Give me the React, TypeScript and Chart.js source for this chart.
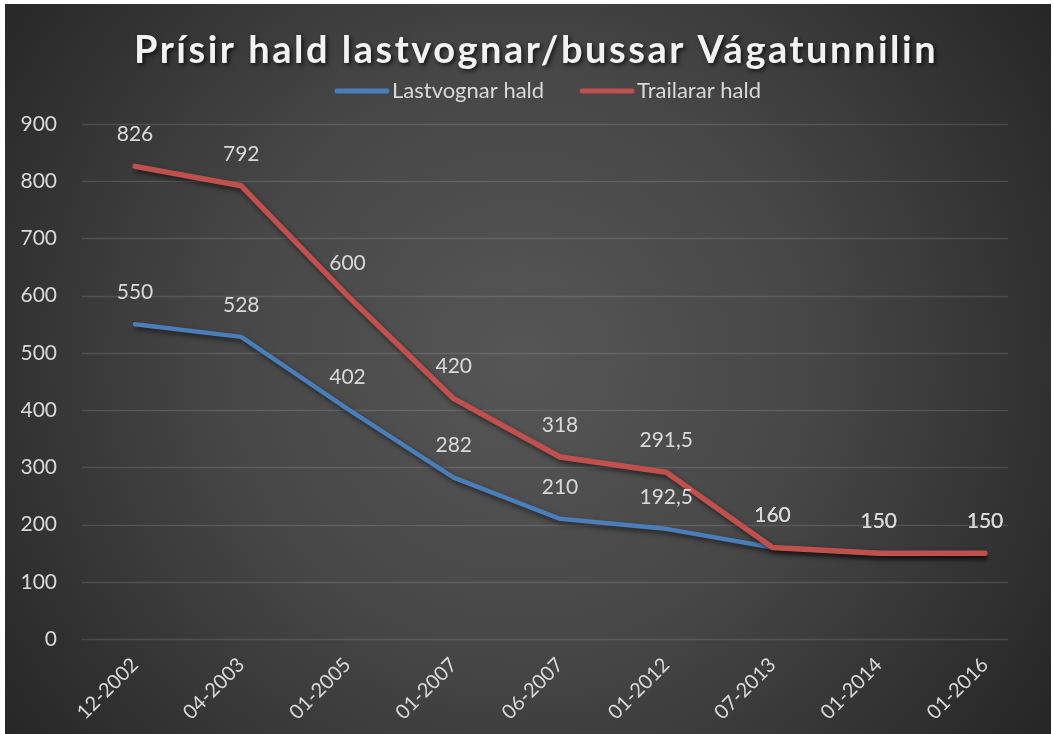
import React, { useEffect, useRef } from "react";
import { Chart, registerables } from "chart.js";

Chart.register(...registerables);

const categories = ["12-2002", "04-2003", "01-2005", "01-2007", "06-2007", "01-2012", "07-2013", "01-2014", "01-2016"];
const lastvognarValues = [550, 528, 402, 282, 210, 192.5, 160, 150, 150];
const trailararValues = [826, 792, 600, 420, 318, 291.5, 160, 150, 150];
const seriesNames = ["Lastvognar hald", "Trailarar hald"];
const seriesColors = ["#4a7ebb", "#c0504d"];
const yMin = 0;
const yMax = 900;
const yStep = 100;
const titleText = "Prísir hald lastvognar/bussar Vágatunnilin";

const FONT = "Lato, 'Open Sans', 'DejaVu Sans', sans-serif";
const TEXT_COLOR = "#d9d9d9";

const fmt = (v: number) => String(v).replace(".", ",");

const bgPlugin = {
  id: "bg",
  beforeDraw(chart: any) {
    const { ctx, width, height } = chart;
    ctx.save();
    ctx.fillStyle = "#ffffff";
    ctx.fillRect(0, 0, width, height);
    const g = ctx.createRadialGradient(520, 360, 0, 520, 360, 640);
    g.addColorStop(0, "#565656");
    g.addColorStop(0.45, "#474747");
    g.addColorStop(1, "#262626");
    ctx.fillStyle = g;
    ctx.fillRect(5, 4, width - 7, height - 4);
    ctx.restore();
  },
};

const gridPlugin = {
  id: "customGrid",
  beforeDatasetsDraw(chart: any) {
    const { ctx } = chart;
    const ys = chart.scales.y;
    ctx.save();
    ctx.strokeStyle = "rgba(255,255,255,0.12)";
    ctx.lineWidth = 1.5;
    ys.ticks.forEach((t: any) => {
      const y = Math.round(ys.getPixelForValue(t.value)) + 0.5;
      ctx.beginPath();
      ctx.moveTo(82, y);
      ctx.lineTo(1008, y);
      ctx.stroke();
    });
    ctx.restore();
  },
};

const shadowPlugin = {
  id: "lineShadow",
  beforeDatasetsDraw(chart: any) {
    const { ctx } = chart;
    ctx.save();
    ctx.shadowColor = "rgba(0,0,0,0.55)";
    ctx.shadowBlur = 5;
    ctx.shadowOffsetX = 2;
    ctx.shadowOffsetY = 3;
  },
  afterDatasetsDraw(chart: any) {
    chart.ctx.restore();
  },
};

const labelsPlugin = {
  id: "dataLabels",
  afterDatasetsDraw(chart: any) {
    const { ctx } = chart;
    ctx.save();
    ctx.font = `21px ${FONT}`;
    ctx.fillStyle = TEXT_COLOR;
    ctx.textAlign = "center";
    ctx.textBaseline = "middle";
    chart.data.datasets.forEach((ds: any, di: number) => {
      const meta = chart.getDatasetMeta(di);
      meta.data.forEach((pt: any, i: number) => {
        ctx.fillText(fmt(ds.data[i]), pt.x, pt.y - 32);
      });
    });
    ctx.restore();
  },
};

const headerPlugin = {
  id: "header",
  afterDraw(chart: any) {
    const { ctx } = chart;
    ctx.save();
    ctx.font = `bold 38px ${FONT}`;
    (ctx as any).letterSpacing = "2.5px";
    ctx.textAlign = "center";
    ctx.textBaseline = "middle";
    ctx.shadowColor = "rgba(0,0,0,0.7)";
    ctx.shadowBlur = 4;
    ctx.shadowOffsetX = 2;
    ctx.shadowOffsetY = 2;
    ctx.fillStyle = "#f2f2f2";
    ctx.fillText(titleText, 536, 51);
    ctx.restore();

    // legend
    ctx.save();
    ctx.font = `22px ${FONT}`;
    ctx.textBaseline = "middle";
    ctx.textAlign = "left";
    const sample = 54;
    const gap = 3;
    const itemGap = 36;
    const widths = seriesNames.map((n) => sample + gap + ctx.measureText(n).width);
    const total = widths.reduce((a, b) => a + b, 0) + itemGap * (seriesNames.length - 1);
    let x = 548 - total / 2;
    const y = 91;
    seriesNames.forEach((n, i) => {
      ctx.strokeStyle = seriesColors[i];
      ctx.lineWidth = 5;
      ctx.lineCap = "round";
      ctx.beginPath();
      ctx.moveTo(x + 2, y);
      ctx.lineTo(x + sample - 2, y);
      ctx.stroke();
      ctx.fillStyle = TEXT_COLOR;
      ctx.fillText(n, x + sample + gap, y);
      x += widths[i] + itemGap;
    });
    ctx.restore();
  },
};

export default function App() {
  const ref = useRef<HTMLCanvasElement | null>(null);
  useEffect(() => {
    document.body.style.margin = "0";
    const canvas = ref.current;
    if (!canvas) return;
    const chart = new Chart(canvas, {
      type: "line",
      data: {
        labels: categories,
        datasets: [
          {
            label: seriesNames[0],
            data: lastvognarValues,
            borderColor: seriesColors[0],
            backgroundColor: seriesColors[0],
            borderWidth: 4.5,
            pointRadius: 0,
            tension: 0,
            borderCapStyle: "round",
            borderJoinStyle: "round",
            order: 1,
          },
          {
            label: seriesNames[1],
            data: trailararValues,
            borderColor: seriesColors[1],
            backgroundColor: seriesColors[1],
            borderWidth: 5.5,
            pointRadius: 0,
            tension: 0,
            borderCapStyle: "round",
            borderJoinStyle: "round",
            order: 0,
          },
        ],
      },
      options: {
        responsive: false,
        animation: false,
        layout: { padding: { left: 0, right: 68, top: 124, bottom: 0 } },
        plugins: {
          legend: { display: false },
          title: { display: false },
          tooltip: { enabled: false },
        },
        scales: {
          x: {
            offset: false,
            grid: { display: false },
            border: { display: false },
            ticks: {
              color: TEXT_COLOR,
              font: { family: FONT, size: 20 },
              minRotation: 45,
              maxRotation: 45,
              autoSkip: false,
              padding: 6,
            },
            afterFit(scale: any) {
              scale.height = 95;
            },
          },
          y: {
            min: yMin,
            max: yMax,
            grid: { display: false },
            border: { display: false },
            ticks: {
              stepSize: yStep,
              color: TEXT_COLOR,
              font: { family: FONT, size: 21 },
              padding: 70,
            },
            afterFit(scale: any) {
              scale.width = 135;
            },
          },
        },
      },
      plugins: [bgPlugin, gridPlugin, shadowPlugin, labelsPlugin, headerPlugin],
    } as any);
    return () => chart.destroy();
  }, []);
  return <canvas ref={ref} width={1053} height={734} style={{ display: "block" }} />;
}
